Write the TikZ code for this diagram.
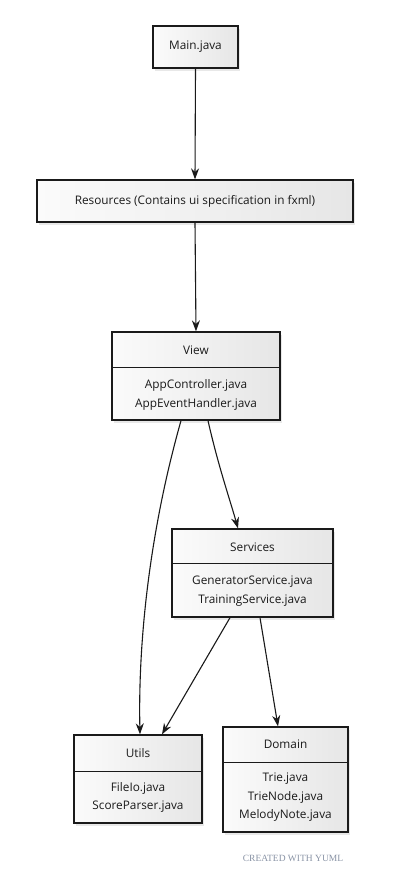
\documentclass[tikz,border=0pt]{standalone}
\usepackage{fontspec}
\setmainfont{Open Sans}
\usetikzlibrary{arrows.meta,calc,shadows}
\definecolor{edge}{HTML}{1A1A1A}
\definecolor{boxlight}{HTML}{FBFBFB}
\definecolor{boxdark}{HTML}{E6E6E6}
\definecolor{credit}{HTML}{8A94A6}
\tikzset{
  box/.style={draw=edge, line width=1.3pt, left color=boxlight, right color=boxdark,
    drop shadow={shadow xshift=2pt, shadow yshift=-3pt, opacity=0.18},
    inner sep=0pt, minimum width=#1},
  lbl/.style={font=\fontsize{11.8}{18.5}\selectfont, text=edge, align=center, inner sep=0pt},
  divider/.style={draw=edge, line width=0.9pt},
  arr/.style={draw=edge, line width=1.1pt, -{Stealth[length=11pt,width=8pt]}},
}
\begin{document}
\begin{tikzpicture}[x=1pt,y=-1pt]
\useasboundingbox (0,0) rectangle (406,875);
\fill[white] (0,0) rectangle (406,875);
% boxes
\node[box=85, minimum height=42] (main) at (195.5,47) {};
\node[lbl] (maint) at (main.center) {Main.java};
\node[box=316, minimum height=42] (res) at (195,201) {};
\node[lbl] (rest) at (res.center) {Resources (Contains ui specification in fxml)};
\node[box=168, minimum height=88] (view) at (196,376) {};
\node[lbl] (viewh) at (196,350) {View};
\node[lbl] (viewb) at (196,395) {AppController.java\\AppEventHandler.java};
\node[box=161, minimum height=88] (serv) at (252.5,573) {};
\node[lbl] (servh) at (252.5,547) {Services};
\node[lbl] (servb) at (252.5,591) {GeneratorService.java\\TrainingService.java};
\node[box=128, minimum height=88] (utils) at (138,779) {};
\node[lbl] (utilsh) at (138,753) {Utils};
\node[lbl] (utilsb) at (138,797.5) {FileIo.java\\ScoreParser.java};
\node[box=125, minimum height=105] (dom) at (285.5,779.5) {};
\node[lbl] (domh) at (285.5,744) {Domain};
\node[lbl] (domb) at (285.5,797.5) {Trie.java\\TrieNode.java\\MelodyNote.java};
% dividers
\draw[divider] (view.west |- 0,367) -- (view.east |- 0,367);
\draw[divider] (serv.west |- 0,563) -- (serv.east |- 0,563);
\draw[divider] (utils.west |- 0,771) -- (utils.east |- 0,771);
\draw[divider] (dom.west |- 0,762) -- (dom.east |- 0,762);
% connectors
\draw[arr] (main.south) -- (res.north);
\draw[arr] (res.south) -- (view.north);
\draw[arr] ($(view.south)+(-15,0)$) .. controls (150,530) and (138,640) .. ($(utils.north)+(2,0)$);
\draw[arr] ($(view.south)+(12,0)$) .. controls (218,465) and (230,500) .. ($(serv.north)+(-14.5,0)$);
\draw[arr] ($(serv.south)+(-22.5,0)$) -- ($(utils.north)+(24,0)$);
\draw[arr] ($(serv.south)+(7.5,0)$) -- ($(dom.north)+(-7.5,0)$);
% credit
\node[font=\fontsize{9.5}{11}\selectfont, text=credit, inner sep=0pt] (credit) at (293,858) {\fontspec{Liberation Serif}CREATED WITH YUML};
\end{tikzpicture}
\end{document}
